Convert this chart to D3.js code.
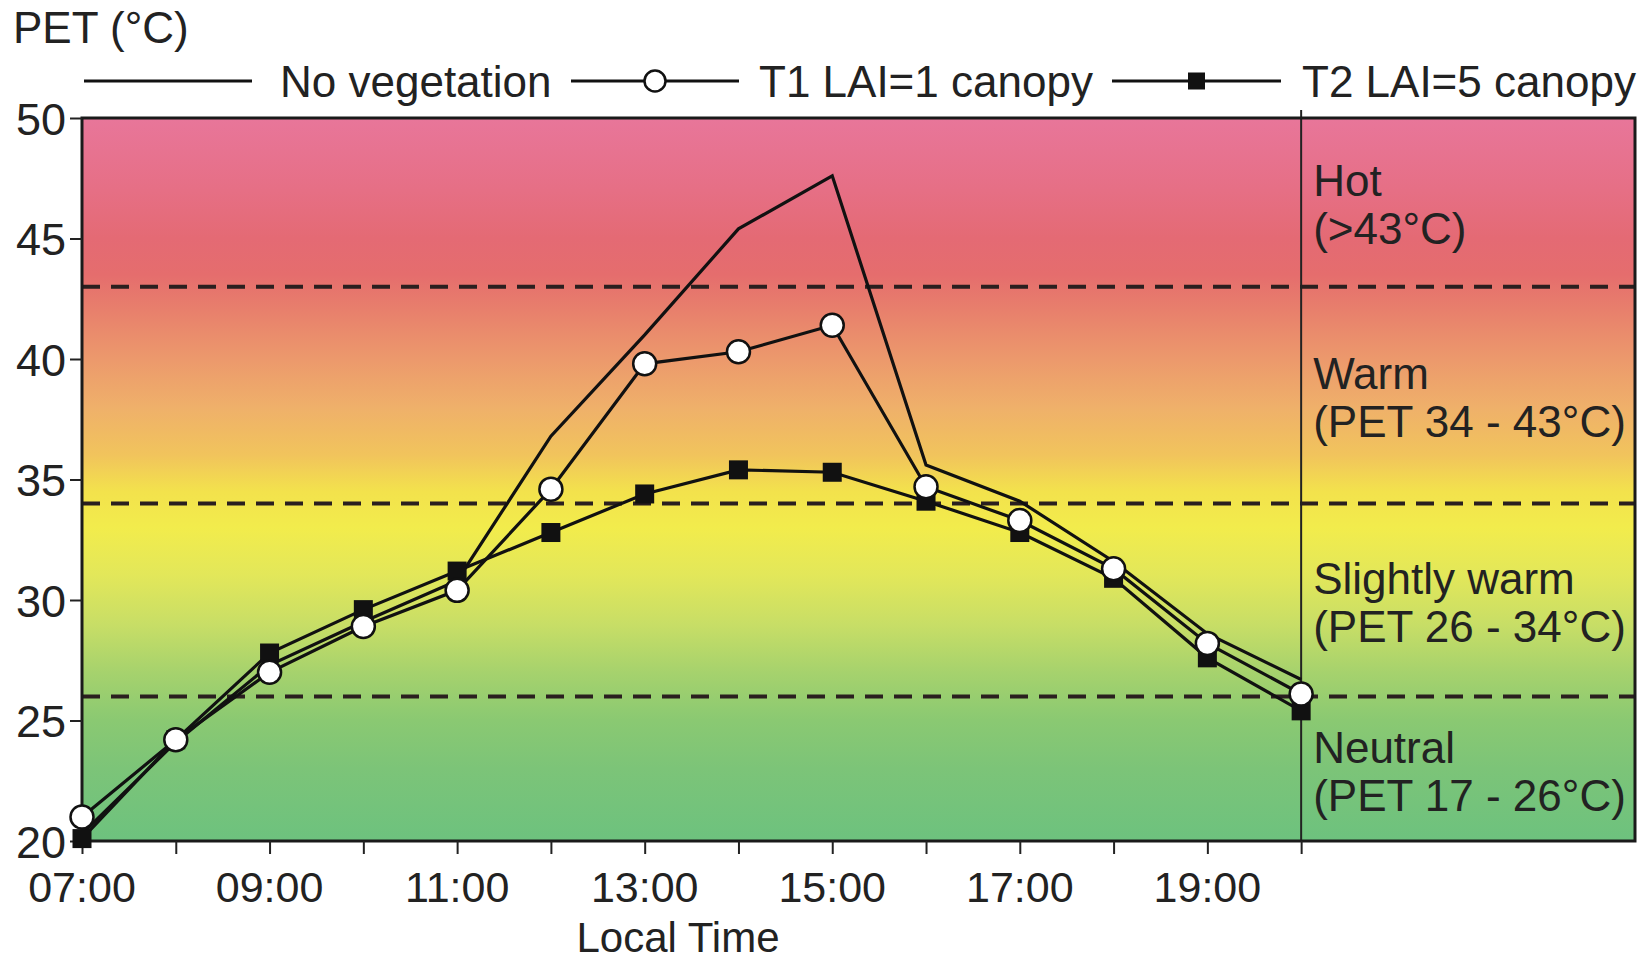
<!DOCTYPE html>
<html>
<head>
<meta charset="utf-8">
<script src="https://cdn.jsdelivr.net/npm/d3@7"></script>
<style>
  html, body { margin: 0; padding: 0; background: #ffffff; }
  svg { display: block; }
  text { font-family: "Liberation Sans", Arial, sans-serif; fill: #222; }
</style>
</head>
<body>
<svg id="chart" width="1649" height="963"></svg>
<script>
// ---- data ----
const hours = [7, 8, 9, 10, 11, 12, 13, 14, 15, 16, 17, 18, 19, 20];
const noVegetation = [20.3, 24.1, 27.3, 29.1, 30.8, 36.8, 41.0, 45.4, 47.6, 35.6, 34.1, 31.6, 28.6, 26.7];
const t1Lai1 = [21.0, 24.2, 27.0, 28.9, 30.4, 34.6, 39.8, 40.3, 41.4, 34.7, 33.3, 31.3, 28.2, 26.1];
const t2Lai5 = [20.1, 24.2, 27.8, 29.6, 31.2, 32.8, 34.4, 35.4, 35.3, 34.1, 32.8, 30.9, 27.6, 25.4];
const seriesNames = ["No vegetation", "T1 LAI=1 canopy", "T2 LAI=5 canopy"];
const yTicks = [20, 25, 30, 35, 40, 45, 50];
const xLabelHours = [7, 9, 11, 13, 15, 17, 19];
const xLabels = ["07:00", "09:00", "11:00", "13:00", "15:00", "17:00", "19:00"];
const thresholds = [26, 34, 43];
const zones = [
  { lo: 43, hi: 50, l1: "Hot", l2: "(>43°C)" },
  { lo: 34, hi: 43, l1: "Warm", l2: "(PET 34 - 43°C)" },
  { lo: 26, hi: 34, l1: "Slightly warm", l2: "(PET 26 - 34°C)" },
  { lo: 20, hi: 26, l1: "Neutral", l2: "(PET 17 - 26°C)" }
];
const gradValues = [50, 47, 45, 43.5, 42, 40, 38, 36, 34.5, 33, 31, 29, 27, 25, 23, 20];
const gradColors = ["#e8769a", "#e66f85", "#e46a74", "#e56d6d", "#e8806c", "#ec996c", "#efb06a", "#f1c45c", "#f3e24c", "#f2ec4c", "#e2e75a", "#c8de66", "#a6d26d", "#8ac972", "#7cc478", "#6dc27e"];

// ---- layout ----
const svg = d3.select("#chart");
const pLeft = 82, pRight = 1635, pTop = 118, pBottom = 841;
const x = d3.scaleLinear().domain([7, 23.56]).range([pLeft, pRight]);
const y = d3.scaleLinear().domain([20, 50]).range([pBottom, pTop]);

// gradient background
const defs = svg.append("defs");
const grad = defs.append("linearGradient")
  .attr("id", "bg").attr("gradientUnits", "userSpaceOnUse")
  .attr("x1", 0).attr("x2", 0).attr("y1", y(50)).attr("y2", y(20));
gradValues.forEach((v, i) => {
  grad.append("stop").attr("offset", (y(v) - y(50)) / (y(20) - y(50))).attr("stop-color", gradColors[i]);
});
svg.append("rect").attr("x", pLeft).attr("y", pTop).attr("width", pRight - pLeft).attr("height", pBottom - pTop)
  .attr("fill", "url(#bg)");

// dashed thresholds
svg.selectAll(".thr").data(thresholds).enter().append("line")
  .attr("x1", pLeft).attr("x2", pRight).attr("y1", d => y(d)).attr("y2", d => y(d))
  .attr("stroke", "#2a1f1f").attr("stroke-width", 4).attr("stroke-dasharray", "18,11");

// vertical separator at 20:00
svg.append("line").attr("x1", x(20)).attr("x2", x(20)).attr("y1", pTop - 8).attr("y2", pBottom)
  .attr("stroke", "#222").attr("stroke-width", 2);

// zone labels
const zg = svg.append("g");
zones.forEach(z => {
  const c = (y(z.lo) + y(z.hi)) / 2;
  zg.append("text").attr("x", x(20) + 12).attr("y", c - 6).attr("font-size", 44).text(z.l1);
  zg.append("text").attr("x", x(20) + 12).attr("y", c + 42).attr("font-size", 44).text(z.l2);
});

// frame
svg.append("rect").attr("x", pLeft).attr("y", pTop).attr("width", pRight - pLeft).attr("height", pBottom - pTop)
  .attr("fill", "none").attr("stroke", "#1a1a1a").attr("stroke-width", 3);

// y axis
const yAxis = svg.append("g").attr("transform", `translate(${pLeft},0)`)
  .call(d3.axisLeft(y).tickValues(yTicks).tickSize(12).tickSizeOuter(0).tickPadding(4));
yAxis.select(".domain").remove();
yAxis.selectAll("line").attr("stroke", "#222").attr("stroke-width", 2);
yAxis.selectAll("text").attr("font-size", 45).attr("fill", "#222").attr("dy", "0.36em")
  .style("font-family", "'Liberation Sans', Arial, sans-serif");

// x axis
const xAxis = svg.append("g").attr("transform", `translate(0,${pBottom})`)
  .call(d3.axisBottom(x).tickValues(hours).tickSize(13).tickSizeOuter(0).tickFormat(() => ""));
xAxis.select(".domain").remove();
xAxis.selectAll("line").attr("stroke", "#222").attr("stroke-width", 2);
svg.append("g").selectAll("text").data(xLabelHours).enter().append("text")
  .attr("x", d => x(d)).attr("y", 902).attr("text-anchor", "middle").attr("font-size", 43)
  .text((d, i) => xLabels[i]);

svg.append("text").attr("x", 678).attr("y", 952).attr("text-anchor", "middle").attr("font-size", 42).text("Local Time");
svg.append("text").attr("x", 13).attr("y", 43).attr("font-size", 44).text("PET (°C)");

// lines
const line = d3.line().x((d, i) => x(hours[i])).y(d => y(d));
[noVegetation, t1Lai1, t2Lai5].forEach(s => {
  svg.append("path").datum(s).attr("d", line).attr("fill", "none")
    .attr("stroke", "#111").attr("stroke-width", 3.2).attr("stroke-linejoin", "miter");
});

// squares (T2)
const sq = 19;
svg.append("g").selectAll("rect").data(t2Lai5).enter().append("rect")
  .attr("x", (d, i) => x(hours[i]) - sq / 2).attr("y", d => y(d) - sq / 2)
  .attr("width", sq).attr("height", sq).attr("fill", "#111");

// circles (T1)
svg.append("g").selectAll("circle").data(t1Lai1).enter().append("circle")
  .attr("cx", (d, i) => x(hours[i])).attr("cy", d => y(d)).attr("r", 11.5)
  .attr("fill", "#fff").attr("stroke", "#111").attr("stroke-width", 2.5);

// legend
const lg = svg.append("g");
const ly = 81;
const legendItems = [
  { x1: 84, x2: 252, tx: 280, mark: null },
  { x1: 571, x2: 739, tx: 759, mark: "circle" },
  { x1: 1112, x2: 1281, tx: 1302, mark: "square" }
];
legendItems.forEach((it, i) => {
  lg.append("line").attr("x1", it.x1).attr("x2", it.x2).attr("y1", ly).attr("y2", ly)
    .attr("stroke", "#111").attr("stroke-width", 3);
  const mx = (it.x1 + it.x2) / 2;
  if (it.mark === "circle") {
    lg.append("circle").attr("cx", mx).attr("cy", ly).attr("r", 10.5).attr("fill", "#fff")
      .attr("stroke", "#111").attr("stroke-width", 2.5);
  } else if (it.mark === "square") {
    lg.append("rect").attr("x", mx - 8.5).attr("y", ly - 8.5).attr("width", 17).attr("height", 17).attr("fill", "#111");
  }
  lg.append("text").attr("x", it.tx).attr("y", ly + 16).attr("font-size", 44).text(seriesNames[i]);
});
</script>
</body>
</html>
